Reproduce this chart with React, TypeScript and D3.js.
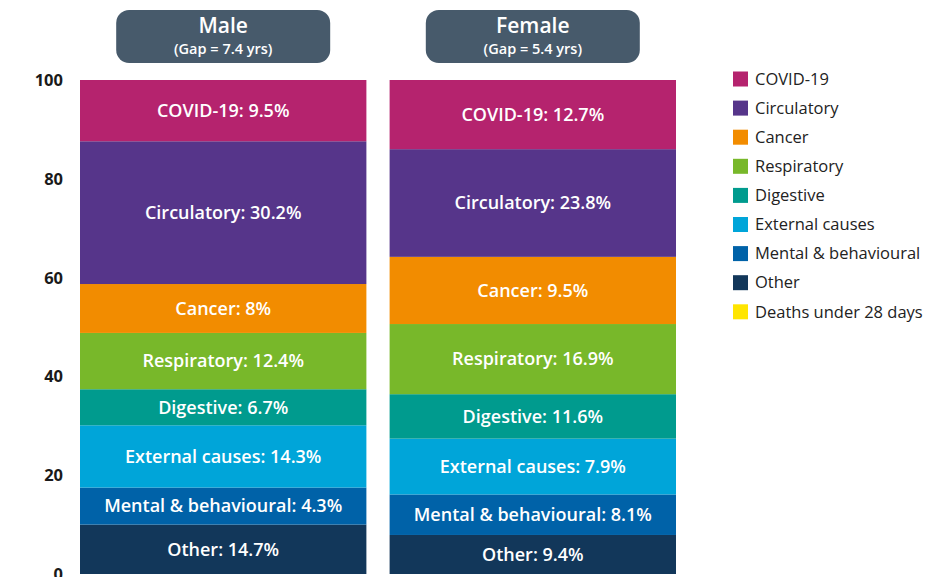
import React from 'react';
import * as d3 from 'd3';

// causes, bottom to top in the stack
const causes = [
  'Other',
  'Mental & behavioural',
  'External causes',
  'Digestive',
  'Respiratory',
  'Cancer',
  'Circulatory',
  'COVID-19',
  'Deaths under 28 days',
];
const colors = ['#12375a', '#0062a8', '#00a5d9', '#009b8e', '#78b82a', '#f28c00', '#56358a', '#b5236e', '#ffe500'];

const groups = ['Male', 'Female'];
const gaps = ['(Gap = 7.4 yrs)', '(Gap = 5.4 yrs)'];

// segment heights as drawn (share of gap, %)
const maleValues = [10.0, 7.5, 12.6, 7.3, 11.4, 9.9, 28.9, 12.4, 0];
const femaleValues = [7.9, 8.2, 11.3, 9.0, 14.2, 13.6, 21.8, 14.0, 0];

// printed labels
const maleLabels = ['14.7%', '4.3%', '14.3%', '6.7%', '12.4%', '8%', '30.2%', '9.5%', ''];
const femaleLabels = ['9.4%', '8.1%', '7.9%', '11.6%', '16.9%', '9.5%', '23.8%', '12.7%', ''];

const legendOrder = ['COVID-19', 'Circulatory', 'Cancer', 'Respiratory', 'Digestive', 'External causes', 'Mental & behavioural', 'Other', 'Deaths under 28 days'];
const yTicks = [0, 20, 40, 60, 80, 100];

const width = 948;
const height = 577;
const font = '"Open Sans", "Noto Sans", sans-serif';

export default function App() {
  const rows = groups.map((g, i) => {
    const vals = i === 0 ? maleValues : femaleValues;
    const row: any = { group: g };
    causes.forEach((c, j) => (row[c] = vals[j]));
    return row;
  });
  const labels = [maleLabels, femaleLabels];

  const series = d3.stack().keys(causes)(rows);

  const x = d3.scaleBand().domain(groups).range([80, 676]).paddingInner(0.075);
  const y = d3.scaleLinear().domain([0, 100]).range([574, 80]);
  const color = d3.scaleOrdinal<string, string>().domain(causes).range(colors);

  return (
    <svg width={width} height={height} style={{ position: 'absolute', left: 0, top: 0, background: '#fff' }} fontFamily={font}>
      {/* y axis labels */}
      {yTicks.map((t) => (
        <text key={t} x={63} y={y(t)} dy="0.36em" textAnchor="end" fontSize={16.5} fontWeight={700} fill="#1a1a1a">
          {t}
        </text>
      ))}

      {/* header pills */}
      {groups.map((g, i) => {
        const cx = (x(g) as number) + x.bandwidth() / 2;
        return (
          <g key={g}>
            <rect x={cx - 107} y={10} width={214} height={53} rx={13} fill="#475a6b" />
            <text x={cx} y={26} dy="0.35em" textAnchor="middle" fontSize={21} fontWeight={600} fill="#fff">
              {g}
            </text>
            <text x={cx} y={48.5} dy="0.35em" textAnchor="middle" fontSize={14.5} fontWeight={600} fill="#fff">
              {gaps[i]}
            </text>
          </g>
        );
      })}

      {/* stacked bars */}
      {series.map((s) => (
        <g key={s.key} fill={color(s.key)}>
          {s.map((d, gi) => {
            const h = y(d[0]) - y(d[1]);
            if (h <= 0) return null;
            return <rect key={gi} x={x(groups[gi])} y={y(d[1])} width={x.bandwidth()} height={h} />;
          })}
        </g>
      ))}

      {/* segment labels */}
      {series.map((s, si) =>
        s.map((d, gi) => {
          const lab = labels[gi][si];
          if (!lab) return null;
          const cx = (x(groups[gi]) as number) + x.bandwidth() / 2;
          const cy = (y(d[0]) + y(d[1])) / 2;
          return (
            <text key={s.key + gi} x={cx} y={cy} dy="0.35em" textAnchor="middle" fontSize={18} fontWeight={600} fill="#fff">
              {`${s.key}: ${lab}`}
            </text>
          );
        })
      )}

      {/* legend */}
      {legendOrder.map((c, i) => {
        const ly = 79 + i * 29.1;
        return (
          <g key={c}>
            <rect x={733} y={ly - 7.5} width={15} height={15} fill={color(c)} />
            <text x={755} y={ly} dy="0.35em" fontSize={16.5} fill="#222">
              {c}
            </text>
          </g>
        );
      })}
    </svg>
  );
}
